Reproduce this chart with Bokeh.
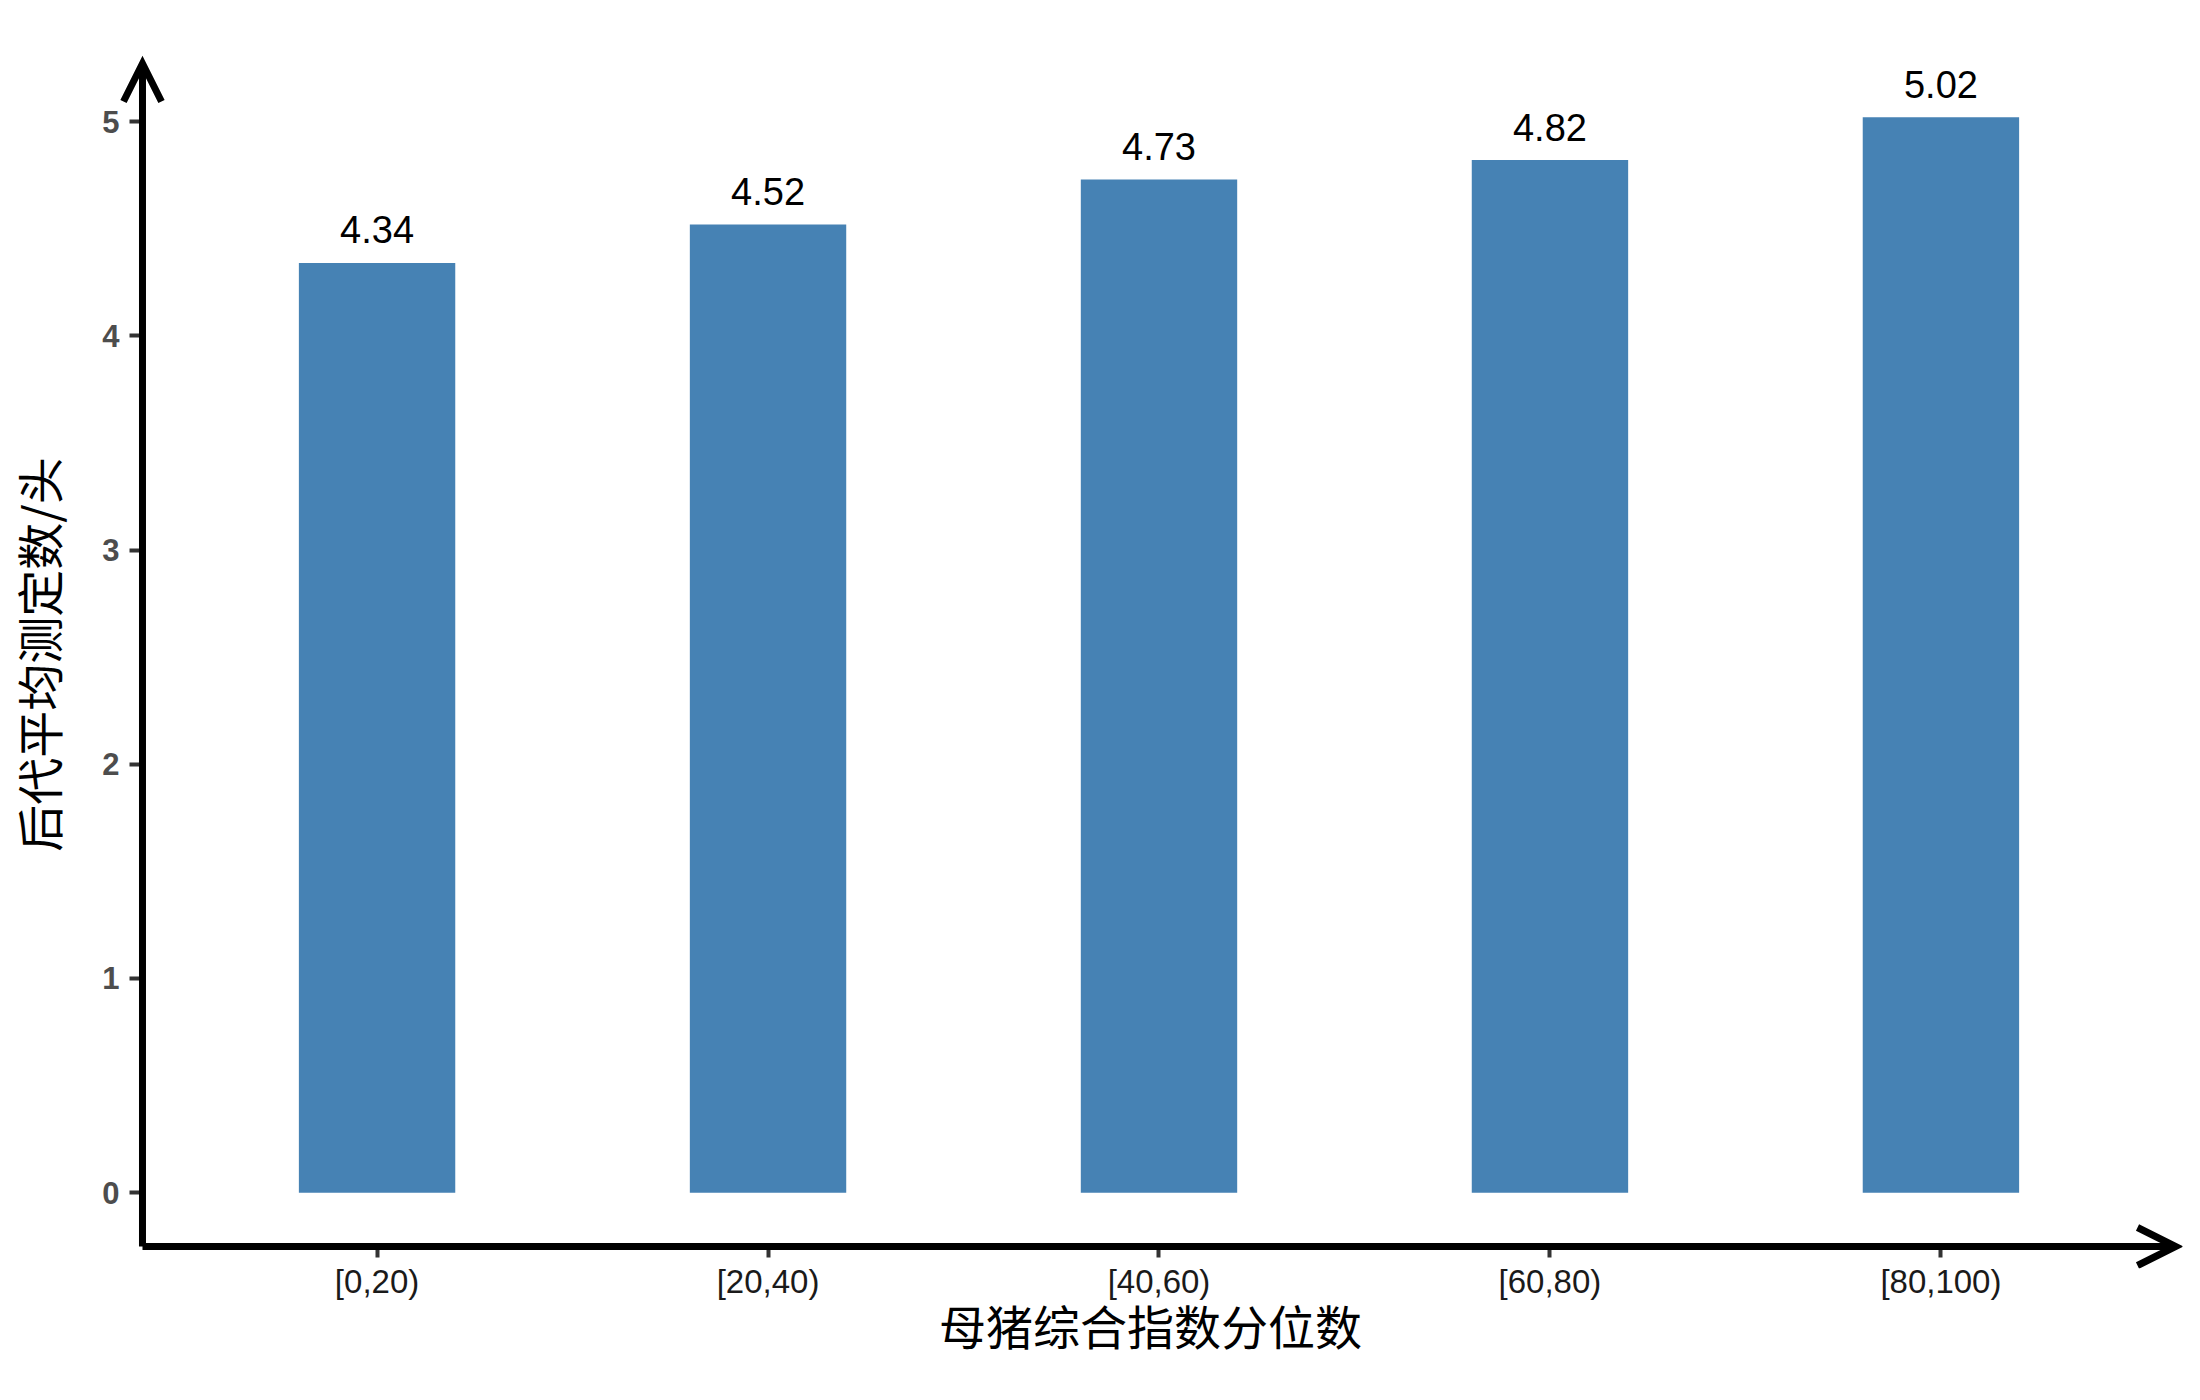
from bokeh.plotting import figure
from bokeh.models import Range1d, FixedTicker, ColumnDataSource, Arrow, OpenHead
from bokeh.core.properties import value
from bokeh.embed import file_html
from bokeh.resources import INLINE

categories = ["[0,20)", "[20,40)", "[40,60)", "[60,80)", "[80,100)"]
values = [4.34, 4.52, 4.73, 4.82, 5.02]
y_ticks = [0, 1, 2, 3, 4, 5]
x_title = "母猪综合指数分位数"
y_title = "后代平均测定数/头"

positions = list(range(1, len(categories) + 1))
ymax = max(values)
# panel (axis-line) limits, ggplot-style expansion
y_lo, y_hi = -0.05 * ymax, ymax * 1.05
x_lo, x_hi = 0.4, len(categories) + 0.6

# layout (pixels)
W, H = 2184, 1380
B_LEFT, B_RIGHT, B_TOP, B_BOTTOM = 110, 2, 40, 112
FW, FH = W - B_LEFT - B_RIGHT - 7, H - B_TOP - B_BOTTOM
PAD_L, PAD_R, PAD_T, PAD_B = 24, 7, 23, 22   # room inside the frame for the arrow heads
sx = (FW - PAD_L - PAD_R) / (x_hi - x_lo)
sy = (FH - PAD_T - PAD_B) / (y_hi - y_lo)

src = ColumnDataSource(dict(x=positions, top=values, label=[f"{v:.2f}" for v in values]))

p = figure(width=W, height=H, output_backend="svg", toolbar_location=None,
           x_range=Range1d(x_lo - PAD_L / sx, x_hi + PAD_R / sx),
           y_range=Range1d(y_lo - PAD_B / sy, y_hi + PAD_T / sy),
           min_border_left=B_LEFT, min_border_right=B_RIGHT,
           min_border_top=B_TOP, min_border_bottom=B_BOTTOM)
p.outline_line_color = None
p.xgrid.grid_line_color = None
p.ygrid.grid_line_color = None
p.background_fill_color = "white"
p.border_fill_color = "white"

p.vbar(x="x", top="top", width=0.4, bottom=0, source=src, fill_color="#4682B4", line_color=None)
p.text(x="x", y="top", text="label", source=src, text_align="center", text_baseline="alphabetic",
       y_offset=-33, text_font=value("Liberation Sans"), text_font_size="38px", text_color="black")

for ax in (p.xaxis[0], p.yaxis[0]):
    ax.axis_line_color = None
    ax.minor_tick_line_color = None
    ax.major_tick_line_color = "#333333"
    ax.major_tick_line_width = 4

# x axis: ticks drawn from the arrow line outward
p.xaxis.ticker = FixedTicker(ticks=positions)
p.xaxis.major_label_overrides = {pos: c for pos, c in zip(positions, categories)}
p.xaxis.major_tick_in = PAD_B
p.xaxis.major_tick_out = -(PAD_B - 11)
p.xaxis.major_label_standoff = -6
p.xaxis.major_label_text_font = "Liberation Sans"
p.xaxis.major_label_text_font_size = "33px"
p.xaxis.major_label_text_color = "#1A1A1A"
p.xaxis.axis_label = x_title
p.xaxis.axis_label_text_font = "Noto Sans CJK SC"
p.xaxis.axis_label_text_font_size = "47px"
p.xaxis.axis_label_text_font_style = "normal"
p.xaxis.axis_label_text_color = "black"
p.xaxis.axis_label_standoff = -13

p.yaxis.ticker = FixedTicker(ticks=y_ticks)
p.yaxis.major_tick_in = PAD_L
p.yaxis.major_tick_out = -(PAD_L - 13)
p.yaxis.major_label_standoff = -1
p.yaxis.major_label_text_font = "Liberation Sans"
p.yaxis.major_label_text_font_size = "31px"
p.yaxis.major_label_text_font_style = "bold"
p.yaxis.major_label_text_color = "#4D4D4D"
p.yaxis.axis_label = y_title
p.yaxis.axis_label_text_font = "Noto Sans CJK SC"
p.yaxis.axis_label_text_font_size = "47px"
p.yaxis.axis_label_text_font_style = "normal"
p.yaxis.axis_label_text_color = "black"
p.yaxis.axis_label_standoff = 27

# axis lines with open arrow heads
for xs, ys, xe, ye in [(x_lo, y_lo, x_lo, y_hi), (x_lo, y_lo, x_hi, y_lo)]:
    p.add_layout(Arrow(x_start=xs, y_start=ys, x_end=xe, y_end=ye, line_width=7, line_color="black",
                       line_cap="butt",
                       end=OpenHead(size=38, line_width=7, line_color="black", line_join="miter")))

open("out.html", "w").write(file_html(p, INLINE))
